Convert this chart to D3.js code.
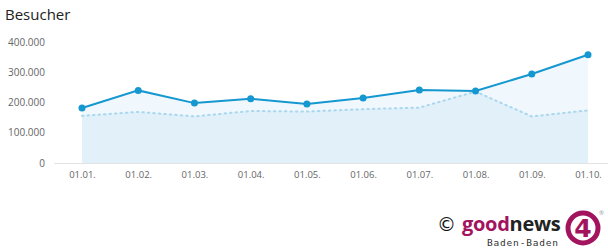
<!DOCTYPE html>
<html>
<head>
<meta charset="utf-8">
<script src="https://cdn.jsdelivr.net/npm/d3@7"></script>
<style>
    body { margin: 0; background: #fff; }
    svg { display: block; font-family: "Open Sans", sans-serif; }
</style>
</head>
<body>
<svg id="chart" width="608" height="250"></svg>
<script>
var months = ["01.01.", "01.02.", "01.03.", "01.04.", "01.05.", "01.06.", "01.07.", "01.08.", "01.09.", "01.10."];
var visitors = [182000, 240000, 198000, 212000, 195000, 215000, 241000, 238000, 294000, 358000];
var visitorsPrev = [156000, 169000, 154000, 172000, 170000, 178000, 183000, 236000, 154000, 174000];
var yTicks = [0, 100000, 200000, 300000, 400000];

var svg = d3.select("#chart");

var x = d3.scalePoint()
    .domain(months)
    .range([82, 588]);

var y = d3.scaleLinear()
    .domain([0, 400000])
    .range([163, 42]);

var fmt = function (v) {
    return v === 0 ? "0" : d3.format(",")(v).replace(/,/g, ".");
};

// title
svg.append("text")
    .attr("x", 5)
    .attr("y", 20)
    .style("font-size", "15px")
    .style("fill", "#222")
    .text("Besucher");

// areas
var area = function (data) {
    return d3.area()
        .x(function (d, i) { return x(months[i]); })
        .y0(y(0))
        .y1(function (d) { return y(d); })(data);
};

svg.append("path")
    .attr("d", area(visitors))
    .attr("fill", "#f0f7fd");

svg.append("path")
    .attr("d", area(visitorsPrev))
    .attr("fill", "#e1f0f9");

// baseline
svg.append("line")
    .attr("x1", 54).attr("x2", 608)
    .attr("y1", y(0) + 0.5).attr("y2", y(0) + 0.5)
    .attr("stroke", "#e3e3e3");

// y axis labels
var yAxis = d3.axisLeft(y).tickValues(yTicks).tickFormat(fmt).tickSize(0).tickPadding(0);
var gy = svg.append("g").attr("transform", "translate(45,0)").call(yAxis);
gy.select(".domain").remove();
gy.selectAll("text").style("font-size", "10px").style("fill", "#666").style("font-family", "Open Sans, sans-serif");

// x axis labels
var xAxis = d3.axisBottom(x).tickSize(0).tickPadding(0);
var gx = svg.append("g").attr("transform", "translate(0,171)").call(xAxis);
gx.select(".domain").remove();
gx.selectAll("text").style("font-size", "9.5px").style("fill", "#666").style("font-family", "Open Sans, sans-serif");

var line = d3.line()
    .x(function (d, i) { return x(months[i]); })
    .y(function (d) { return y(d); });

// previous year dotted line
svg.append("path")
    .attr("d", line(visitorsPrev))
    .attr("fill", "none")
    .attr("stroke", "#a9d8ee")
    .attr("stroke-width", 2)
    .attr("stroke-dasharray", "1.5,4")
    .attr("stroke-linecap", "round");

// main line
svg.append("path")
    .attr("d", line(visitors))
    .attr("fill", "none")
    .attr("stroke", "#1597d0")
    .attr("stroke-width", 2);

svg.selectAll(".pt")
    .data(visitors)
    .enter().append("circle")
    .attr("class", "pt")
    .attr("cx", function (d, i) { return x(months[i]); })
    .attr("cy", function (d) { return y(d); })
    .attr("r", 3.5)
    .attr("fill", "#1597d0");

// logo
var logo = svg.append("g");
logo.append("text")
    .attr("x", 437).attr("y", 231)
    .style("font-size", "19px")
    .style("font-family", "DejaVu Sans, sans-serif")
    .style("fill", "#111")
    .text("©");
var gn = logo.append("text")
    .attr("x", 462).attr("y", 231)
    .style("font-size", "20px")
    .style("font-weight", "bold")
    .style("font-family", "Open Sans, sans-serif")
    .style("letter-spacing", "-0.3px");
gn.append("tspan").style("fill", "#a3145f").text("good");
gn.append("tspan").style("fill", "#222").text("news");
logo.append("text")
    .attr("x", 487).attr("y", 246)
    .style("font-size", "9.5px")
    .style("font-family", "DejaVu Sans Mono, monospace")
    .style("fill", "#333")
    .attr("textLength", 71)
    .text("Baden-Baden");
logo.append("circle")
    .attr("cx", 583).attr("cy", 228).attr("r", 15)
    .attr("fill", "#fff")
    .attr("stroke", "#a3145f")
    .attr("stroke-width", 5);
logo.append("text")
    .attr("x", 583).attr("y", 237)
    .attr("text-anchor", "middle")
    .style("font-size", "25px")
    .style("font-weight", "bold")
    .style("font-family", "DejaVu Sans, sans-serif")
    .style("fill", "#a3145f")
    .text("4");
logo.append("text")
    .attr("x", 599).attr("y", 215)
    .style("font-size", "6px")
    .style("fill", "#999")
    .text("®");
</script>
</body>
</html>
